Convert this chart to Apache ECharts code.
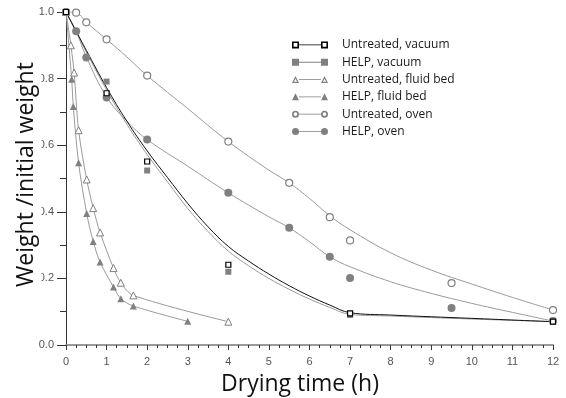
<!DOCTYPE html>
<html><head><meta charset="utf-8">
<script src="https://cdn.jsdelivr.net/npm/echarts@6/dist/echarts.min.js"></script>
<style>html,body{margin:0;padding:0;background:#fff}#c{width:566px;height:398px}</style>
</head><body><div id="c"></div>
<script>
// ---- data ----
const seriesNames = ['Untreated, vacuum','HELP, vacuum','Untreated, fluid bed','HELP, fluid bed','Untreated, oven','HELP, oven'];
const xTicks = [0,1,2,3,4,5,6,7,8,9,10,11,12];
const yTicks = [0.0,0.2,0.4,0.6,0.8,1.0];
const xTitle = 'Drying time (h)';
const yTitle = 'Weight /initial weight';

// measured points
const vacUntrT = [0,1,2,4,7,12];
const vacUntrW = [1.0,0.756,0.551,0.241,0.095,0.07];
const vacHelpT = [0,1,2,4,7,12];
const vacHelpW = [1.0,0.791,0.524,0.220,0.090,0.07];
const fbUntrT = [0,0.12,0.2,0.31,0.51,0.67,0.84,1.17,1.35,1.66,4];
const fbUntrW = [1.0,0.900,0.818,0.645,0.497,0.411,0.338,0.231,0.187,0.149,0.070];
const fbHelpT = [0,0.14,0.18,0.31,0.51,0.67,0.84,1.17,1.35,1.66,3];
const fbHelpW = [1.0,0.798,0.716,0.547,0.395,0.311,0.249,0.174,0.139,0.117,0.071];
const ovUntrT = [0,0.25,0.5,1,2,4,5.5,6.5,7,9.5,12];
const ovUntrW = [1.0,0.998,0.969,0.918,0.809,0.611,0.487,0.384,0.314,0.186,0.105];
const ovHelpT = [0,0.25,0.5,1,2,4,5.5,6.5,7,9.5,12];
const ovHelpW = [1.0,0.942,0.863,0.743,0.617,0.457,0.352,0.265,0.201,0.111,0.072];

// fitted curves
const vacUntrFitT = [0,0.5,1,1.5,2,2.5,3,3.5,4,4.5,5,5.5,6,6.5,7,8,10,12];
const vacUntrFitW = [1.0,0.885,0.773,0.672,0.583,0.503,0.425,0.355,0.296,0.252,0.213,0.178,0.147,0.12,0.097,0.09,0.08,0.07];
const vacHelpFitT = [0,0.5,1,1.5,2,2.5,3,3.5,4,4.5,5,5.5,6,6.5,7,8,10,12];
const vacHelpFitW = [1.0,0.88,0.766,0.663,0.572,0.49,0.41,0.341,0.282,0.238,0.2,0.167,0.138,0.113,0.092,0.087,0.078,0.07];
const ovUntrFitT = [0,0.25,0.5,1,1.5,2,3,4,5,5.5,6,6.5,7,8,9,10,11,12];
const ovUntrFitW = [1.0,0.998,0.969,0.918,0.865,0.809,0.71,0.611,0.525,0.487,0.44,0.388,0.346,0.277,0.225,0.183,0.143,0.105];
const ovHelpFitT = [0,0.25,0.5,1,1.5,2,3,4,5,5.5,6,6.5,7,8,9,10,11,12];
const ovHelpFitW = [1.0,0.942,0.865,0.745,0.672,0.617,0.537,0.457,0.385,0.352,0.31,0.265,0.235,0.19,0.155,0.125,0.098,0.072];

// ---- build ----
const pairs = (t, w) => t.map((x, i) => [x, w[i]]);
const GRAY = '#808080', LGRAY = '#9a9a9a';

function sq(x, hollow){ let p = `M${x},0.5 H${x+7} V7.5 H${x} Z `; if(hollow) p += `M${x+1.6},2.1 V5.9 H${x+5.4} V2.1 Z `; return p; }
function circ(x, hollow){ let p = `M${x},4 A3.5,3.5 0 1 1 ${x+7},4 A3.5,3.5 0 1 1 ${x},4 Z `; if(hollow) p += `M${x+1.7},4 A1.8,1.8 0 1 0 ${x+5.3},4 A1.8,1.8 0 1 0 ${x+1.7},4 Z `; return p; }
function tri(x, hollow){ let p = `M${x+3.5},0.5 L${x+7},7.5 L${x},7.5 Z `; if(hollow) p += `M${x+3.5},3.1 L${x+1.9},6.3 L${x+5.1},6.3 Z `; return p; }
const seg = 'M7,3.6 H29 V4.4 H7 Z ';
const icon = (f, hollow) => 'path://' + f(0, hollow) + seg + f(29, hollow);

const legendIcons = [icon(sq,true), icon(sq,false), icon(tri,true), icon(tri,false), icon(circ,true), icon(circ,false)];
const legendColors = ['#000', GRAY, GRAY, GRAY, GRAY, GRAY];

const chart = echarts.init(document.getElementById('c'), null, {renderer:'canvas'});
const fitLine = (data, color, w) => ({type:'line', data, smooth:0.4, symbol:'none', lineStyle:{color, width:w}, silent:true, z:2});

chart.setOption({
  animation:false,
  grid:{left:66, right:13, top:12, bottom:53, containLabel:false, outerBoundsMode:'none'},
  legend:{
    orient:'vertical', left:292, top:36.3, padding:0, itemGap:0,
    itemWidth:36, itemHeight:8,
    textStyle:{fontFamily:'Open Sans', fontSize:12, color:'#1a1a1a', lineHeight:17.3, padding:[0,0,0,9]},
    data: seriesNames.map((n,i)=>({name:n, icon:legendIcons[i], itemStyle:{color:legendColors[i], borderWidth:0}})),
    selectedMode:false
  },
  graphic:[
    {type:'rect', x:0, y:52, shape:{width:41.5, height:243}, style:{fill:'#fff'}, z:100, silent:true},
    {type:'text', x:26, y:174.5, rotation:Math.PI/2, z:101, silent:true,
      style:{text:yTitle, fontFamily:'Open Sans', fontSize:23, fill:'#111', align:'center', verticalAlign:'middle'}}
  ],
  xAxis:[{
    type:'value', min:0, max:12, interval:1, position:'bottom',
    name:xTitle, nameLocation:'middle', nameGap:28,
    nameTextStyle:{fontFamily:'Open Sans', fontSize:23, color:'#111', padding:[0,19,0,0]},
    axisLine:{show:true, lineStyle:{color:'#333', width:1}},
    axisTick:{show:true, length:5, lineStyle:{color:'#333'}},
    minorTick:{show:true, splitNumber:4, length:3, lineStyle:{color:'#333'}},
    splitLine:{show:false},
    axisLabel:{fontFamily:'Liberation Sans', fontSize:11, color:'#555', margin:11,
      formatter:v=> xTicks.includes(v)? String(v):''}
  },{
    type:'value', min:0, max:12, position:'top',
    axisLine:{show:true, lineStyle:{color:'#999', width:2}},
    axisTick:{show:false}, axisLabel:{show:false}, splitLine:{show:false}
  }],
  yAxis:[{
    type:'value', min:0, max:1, interval:0.2, position:'left',
    axisLine:{show:true, lineStyle:{color:'#333', width:1}},
    axisTick:{show:true, length:9, lineStyle:{color:'#333'}},
    minorTick:{show:true, splitNumber:2, length:6, lineStyle:{color:'#333'}},
    splitLine:{show:false},
    axisLabel:{fontFamily:'Liberation Sans', fontSize:11, color:'#555', margin:12,
      formatter:v=>{ const t = yTicks.find(y=>Math.abs(y-v)<1e-6); return t===undefined? '' : t.toFixed(1); }}
  },{
    type:'value', min:0, max:1, position:'right',
    axisLine:{show:true, lineStyle:{color:'#333', width:1}},
    axisTick:{show:false}, axisLabel:{show:false}, splitLine:{show:false}
  }],
  series:[
    fitLine(pairs(ovUntrFitT, ovUntrFitW), LGRAY, 1),
    fitLine(pairs(ovHelpFitT, ovHelpFitW), LGRAY, 1),
    fitLine(pairs(vacHelpFitT, vacHelpFitW), LGRAY, 1),
    fitLine(pairs(vacUntrFitT, vacUntrFitW), '#111', 1),
    {name:seriesNames[2], type:'line', data:pairs(fbUntrT, fbUntrW), smooth:0.3, symbol:'triangle', symbolSize:7, showAllSymbol:true,
      lineStyle:{color:LGRAY, width:1}, itemStyle:{color:'#fff', borderColor:GRAY, borderWidth:1}, z:3},
    {name:seriesNames[3], type:'line', data:pairs(fbHelpT, fbHelpW), smooth:0.3, symbol:'triangle', symbolSize:7, showAllSymbol:true,
      lineStyle:{color:LGRAY, width:1}, itemStyle:{color:GRAY, borderWidth:0}, z:3},
    {name:seriesNames[4], type:'scatter', data:pairs(ovUntrT, ovUntrW), symbol:'circle', symbolSize:7,
      itemStyle:{color:'#fff', borderColor:GRAY, borderWidth:1.2, opacity:1}, z:4},
    {name:seriesNames[5], type:'scatter', data:pairs(ovHelpT, ovHelpW), symbol:'circle', symbolSize:8,
      itemStyle:{color:GRAY, borderWidth:0, opacity:1}, z:4},
    {name:seriesNames[1], type:'scatter', data:pairs(vacHelpT, vacHelpW), symbol:'rect', symbolSize:6,
      itemStyle:{color:GRAY, borderWidth:0, opacity:1}, z:5},
    {name:seriesNames[0], type:'scatter', data:pairs(vacUntrT, vacUntrW), symbol:'rect', symbolSize:5,
      itemStyle:{color:'#fff', borderColor:'#000', borderWidth:1.2, opacity:1}, z:6}
  ]
});
</script></body></html>
